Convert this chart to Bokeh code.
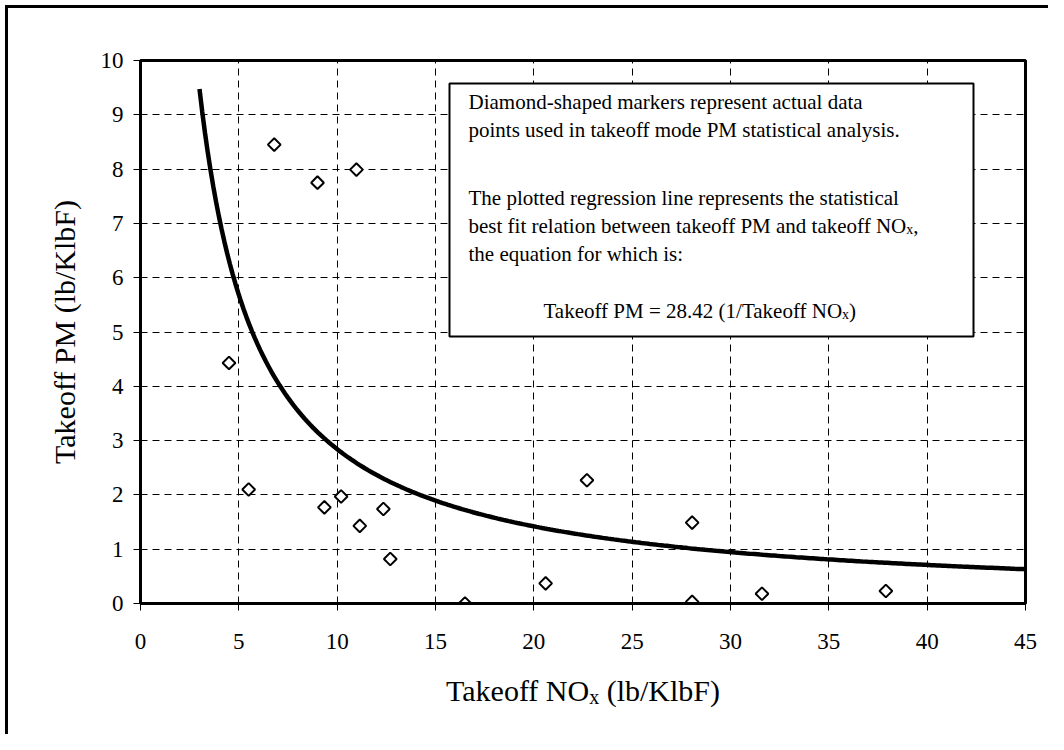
import glob
import numpy as np
from bokeh.plotting import figure
from bokeh.layouts import column
from bokeh.models import Range1d, FixedTicker, Label, BoxAnnotation
from bokeh.embed import file_html
from bokeh.resources import INLINE

# ---------------- data ----------------
nox = [4.5, 5.5, 6.8, 9.0, 9.35, 10.2, 10.98, 11.15, 12.35, 12.7,
       16.5, 20.6, 22.7, 28.05, 28.05, 31.6, 37.9]
pm = [4.43, 2.10, 8.45, 7.75, 1.77, 1.97, 7.99, 1.43, 1.74, 0.82,
      0.0, 0.37, 2.27, 1.49, 0.03, 0.18, 0.23]

fit_coef = 28.42          # Takeoff PM = 28.42 (1/Takeoff NOx)
fit_x_start = 3.0
fit_x_end = 45.0

x_ticks = [0, 5, 10, 15, 20, 25, 30, 35, 40, 45]
y_ticks = [0, 1, 2, 3, 4, 5, 6, 7, 8, 9, 10]

note_lines = [
    "Diamond-shaped markers represent actual data",
    "points used in takeoff mode PM statistical analysis.",
    "The plotted regression line represents the statistical",
    "best fit relation between takeoff PM and takeoff NO",
    "the equation for which is:",
]
equation_text = ["Takeoff PM = 28.42 (1/Takeoff NO", "x", ")"]
x_label_parts = ["Takeoff NO", "x", "(lb/KlbF)"]
y_label = "Takeoff PM (lb/KlbF)"

FONT = "Liberation Serif"

# ---------------- layout (pixels, picture coordinates) ----------------
ORG = 8                      # canvas origin (after 5px margin + 3px border)
TOTAL_W, TOTAL_H = 1040, 726
FL, FT, FW, FH = 140, 60, 885, 543   # frame left/top/width/height
P1_H = 653                   # height of the main chart canvas
X0, X1, Y0, Y1 = 0, 45, 0, 10
BASE_DY = -6                 # baseline correction for label placement


def X(px):
    return X0 + (px - FL) / FW * (X1 - X0)


def Y(py):
    return Y0 + (FT + FH - py) / FH * (Y1 - Y0)


# ---------------- text width measurement ----------------
_TIMES = {' ': 250, '!': 333, '(': 333, ')': 333, ',': 250, '-': 333, '.': 250,
          '/': 278, ':': 278, '=': 564, 'A': 722, 'D': 722, 'F': 556, 'K': 722,
          'M': 889, 'N': 722, 'O': 722, 'P': 556, 'T': 611, 'a': 444, 'b': 500,
          'c': 444, 'd': 500, 'e': 444, 'f': 333, 'g': 500, 'h': 500, 'i': 278,
          'k': 500, 'l': 278, 'm': 778, 'n': 500, 'o': 500, 'p': 500, 'q': 500,
          'r': 333, 's': 389, 't': 278, 'u': 500, 'v': 500, 'w': 722, 'x': 500,
          'y': 500}
_pil_font = None
try:
    from PIL import ImageFont
    cands = glob.glob("/usr/share/fonts/**/LiberationSerif-Regular.ttf", recursive=True)
    if cands:
        _pil_font = ImageFont.truetype(cands[0], 1000)
except Exception:
    _pil_font = None


def tw(s, size):
    if _pil_font is not None:
        try:
            return _pil_font.getlength(s) * size / 1000.0
        except Exception:
            pass
    return sum(_TIMES.get(c, 500) for c in s) * size / 1000.0


# ---------------- main figure ----------------
p = figure(frame_width=FW, frame_height=FH,
           min_border_left=FL - ORG, min_border_top=FT - ORG,
           min_border_right=TOTAL_W - (FL - ORG) - FW,
           min_border_bottom=P1_H - (FT - ORG) - FH,
           x_range=Range1d(X0, X1), y_range=Range1d(Y0, Y1),
           output_backend="svg", toolbar_location=None,
           background_fill_color="white", border_fill_color="white")

p.outline_line_color = "black"
p.outline_line_width = 3
p.outline_line_alpha = 1.0

for ax in (p.xaxis[0], p.yaxis[0]):
    ax.axis_line_color = "black"
    ax.axis_line_width = 3
    ax.major_tick_line_color = "black"
    ax.major_tick_line_width = 1
    ax.major_tick_out = 7
    ax.major_tick_in = 0
    ax.minor_tick_line_color = None
    ax.major_label_text_font = FONT
    ax.major_label_text_font_size = "23px"
    ax.major_label_text_color = "black"

p.xaxis.ticker = FixedTicker(ticks=x_ticks)
p.yaxis.ticker = FixedTicker(ticks=y_ticks)
p.xaxis.major_label_standoff = 23
p.yaxis.major_label_standoff = 10

p.yaxis.axis_label = y_label
p.yaxis.axis_label_text_font = FONT
p.yaxis.axis_label_text_font_size = "30px"
p.yaxis.axis_label_text_font_style = "normal"
p.yaxis.axis_label_text_color = "black"
p.yaxis.axis_label_standoff = 17

for g in (p.xgrid[0], p.ygrid[0]):
    g.grid_line_color = "black"
    g.grid_line_width = 1
    g.grid_line_dash = "7 5"
p.xgrid.ticker = FixedTicker(ticks=x_ticks)
p.ygrid.ticker = FixedTicker(ticks=y_ticks)

# regression curve
fx = np.linspace(fit_x_start, fit_x_end, 300)
fy = fit_coef / fx
p.line(fx, fy, line_color="black", line_width=4.5)

# data points (hollow diamonds)
p.scatter(nox, pm, marker="square", angle=np.pi / 4, size=9,
          fill_color="white", line_color="black", line_width=2)

# note box
box = BoxAnnotation(left=X(449), right=X(973), top=Y(83), bottom=Y(336),
                    fill_color="white", fill_alpha=1.0,
                    line_color="black", line_width=2, line_alpha=1.0)
p.add_layout(box)


def add_text(fig, top, px, py, text, size):
    # canvas units: pixels from the canvas' top-left corner
    fig.add_layout(Label(x=px - ORG, y=py - top + BASE_DY,
                         x_units="canvas", y_units="canvas",
                         text=text, text_font=FONT,
                         text_font_size=f"{size}px", text_color="black",
                         text_align="left", text_baseline="alphabetic"))


NOTE_SIZE = 21
SUB_NOTE = 14
note_x = 468
note_baselines = [107, 135, 203, 231, 259]
for line, b in zip(note_lines, note_baselines):
    add_text(p, ORG, note_x, b, line, NOTE_SIZE)
# subscript after "takeoff NO" in line 4
sx = note_x + tw(note_lines[3], NOTE_SIZE)
add_text(p, ORG, sx, 231 + 4, "x", SUB_NOTE)
add_text(p, ORG, sx + tw("x", SUB_NOTE), 231, ",", NOTE_SIZE)

# equation line
eq_x = 543
eq_b = 316
add_text(p, ORG, eq_x, eq_b, equation_text[0], NOTE_SIZE)
ex = eq_x + tw(equation_text[0], NOTE_SIZE)
add_text(p, ORG, ex, eq_b + 4, equation_text[1], SUB_NOTE)
add_text(p, ORG, ex + tw(equation_text[1], SUB_NOTE), eq_b, equation_text[2], NOTE_SIZE)

# ---------------- strip below for the x axis title (with subscript) ----------------
P2_H = TOTAL_H - P1_H
p2 = figure(width=TOTAL_W, height=P2_H, min_border=0,
            x_range=Range1d(0, 1), y_range=Range1d(0, 1),
            x_axis_location=None, y_axis_location=None,
            output_backend="svg", toolbar_location=None,
            background_fill_color="white", border_fill_color="white")
p2.outline_line_color = None
p2.grid.visible = False

P2_TOP = ORG + P1_H
XL_SIZE = 30
XL_SUB = 20
w0 = tw(x_label_parts[0], XL_SIZE)
w1 = tw(x_label_parts[1], XL_SUB)
wsp = tw(" ", XL_SIZE)
w2 = tw(x_label_parts[2], XL_SIZE)
xl_start = FL + FW / 2 - (w0 + w1 + wsp + w2) / 2
xl_b = 696
add_text(p2, P2_TOP, xl_start, xl_b, x_label_parts[0], XL_SIZE)
add_text(p2, P2_TOP, xl_start + w0, xl_b + 6, x_label_parts[1], XL_SUB)
add_text(p2, P2_TOP, xl_start + w0 + w1 + wsp, xl_b, x_label_parts[2], XL_SIZE)

layout = column(p, p2, spacing=0)
layout.styles = {"margin-left": "5px", "margin-top": "5px",
                 "border-top": "3px solid black", "border-left": "3px solid black"}

open("out.html", "w").write(file_html(layout, INLINE))
